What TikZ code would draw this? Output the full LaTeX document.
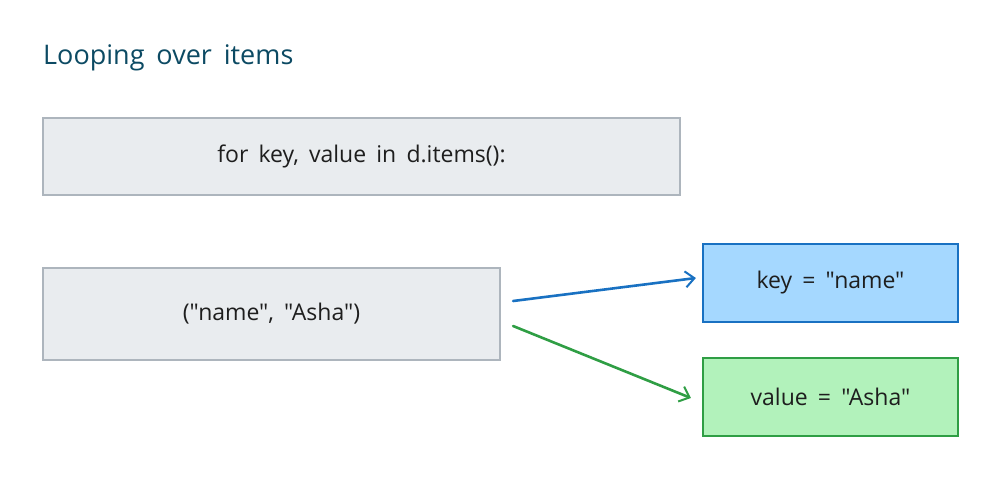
\documentclass[tikz,border=0pt]{standalone}
\usepackage{fontspec}
\defaultfontfeatures[\rmfamily,\sffamily]{}
\setmainfont{Open Sans}[WordSpace=1.7]
\usepackage{tikz}
\usetikzlibrary{calc, arrows.meta}

\definecolor{grigiofill}{HTML}{E9ECEF}
\definecolor{grigiodraw}{HTML}{ADB5BD}
\definecolor{blufill}{HTML}{A5D8FF}
\definecolor{bludraw}{HTML}{1971C2}
\definecolor{verdefill}{HTML}{B2F2BB}
\definecolor{verdedraw}{HTML}{2F9E44}
\definecolor{titolo}{HTML}{0C4A63}
\definecolor{testo}{HTML}{1E1E1E}

\begin{document}
\begin{tikzpicture}[x=1pt, y=-1pt,
  box/.style={draw, line width=2.2pt, inner sep=0pt, text=testo,
    font=\fontsize{23}{28}\selectfont},
  grigio/.style={box, fill=grigiofill, draw=grigiodraw},
  blu/.style={box, fill=blufill, draw=bludraw},
  verde/.style={box, fill=verdefill, draw=verdedraw},
  freccia/.style={line width=2.6pt, line cap=round,
    -{Straight Barb[length=9pt, width=16pt, line width=2pt]}}]
  % margini
  \useasboundingbox (0,0) rectangle (1000,479);

  % titolo
  \node[anchor=west, inner sep=0pt, text=titolo, font=\fontsize{27}{32}\selectfont]
    (title) at (43,58) {Looping over items};

  % riga del ciclo
  \node[grigio, minimum width=637pt, minimum height=77pt]
    (loop) at (361.5,156.5) {for key, value in d.items():};

  % coppia e risultati
  \node[grigio, minimum width=457pt, minimum height=92pt]
    (pair) at (271.5,314) {("name", "Asha")};
  \node[blu, minimum width=255pt, minimum height=78pt]
    (key) at (830.5,283) {key = "name"};
  \node[verde, minimum width=255pt, minimum height=78pt]
    (value) at (830.5,397) {value = "Asha"};

  % frecce
  \draw[freccia, bludraw] ($(pair.east)+(12,-13)$) -- ($(key.west)+(-6,-5)$);
  \draw[freccia, verdedraw] ($(pair.east)+(12,12)$) -- ($(value.west)+(-11,1)$);
\end{tikzpicture}
\end{document}
